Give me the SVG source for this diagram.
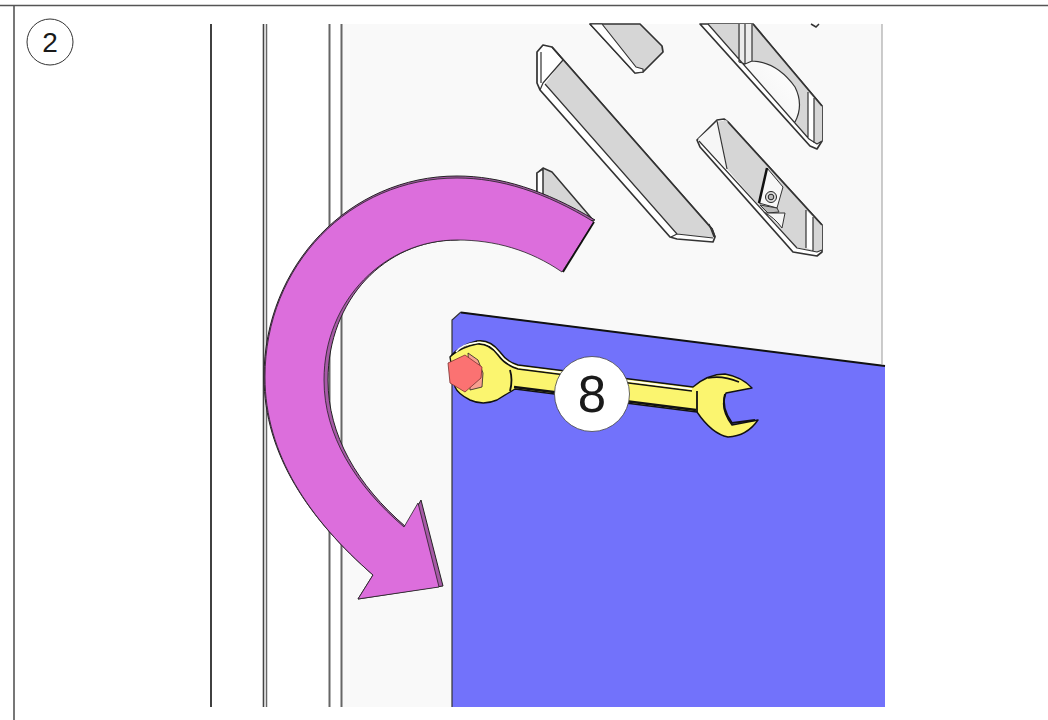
<svg xmlns="http://www.w3.org/2000/svg" width="1048" height="720" viewBox="0 0 1048 720">
<style>
.slot{stroke:#333;stroke-width:1.700;stroke-linejoin:round;fill:#fff}
.face{fill:#d6d6d6;stroke:#333;stroke-width:1.200;stroke-linejoin:round}
.thin{fill:none;stroke:#333;stroke-width:1.200;stroke-linejoin:round}
.wr{fill:#fbf56f;stroke:#111;stroke-width:1.400;stroke-linejoin:round}
.lbl{font-family:"Liberation Sans",Arial,sans-serif;fill:#1a1a1a;text-anchor:middle}
</style>
<defs>
<linearGradient id="dish" x1="0" y1="1" x2="1" y2="0">
<stop offset="0" stop-color="#cfcfcf"/><stop offset=".35" stop-color="#f6f6f6"/><stop offset="1" stop-color="#fff"/>
</linearGradient>
</defs>
<rect width="1048" height="720" fill="#fff"/>
<g id="frame" stroke="#555" stroke-width="1.600" fill="none">
<path d="M0 5.500H1048"/><path d="M14 5V720"/>
</g>
<g id="step-number">
<circle cx="50" cy="42" r="23" fill="#fff" stroke="#333" stroke-width="1"/>
<text class="lbl" x="50" y="52" font-size="28">2</text>
</g>
<g id="plate">
<rect x="342" y="24" width="540" height="683" fill="#f9f9f9"/>
<path d="M882 24V364" stroke="#999" stroke-width="1" fill="none"/>
<g fill="none">
<path d="M211 24V707" stroke="#111" stroke-width="1.600"/>
<path d="M263.500 24V707" stroke="#444" stroke-width="1.600"/>
<path d="M266.500 24V707" stroke="#666" stroke-width="1.500"/>
<path d="M329.500 24V707" stroke="#666" stroke-width="2"/>
<path d="M341.500 24V707" stroke="#666" stroke-width="2"/>
</g>
</g>
<g id="slots">
<g id="slot-top-mid">
<path class="slot" d="M590 24L635 73L643 72L663 52L662 46L640 24Z" style="fill:#d6d6d6"/>
<path d="M590 24L635 73L643 72L643 69L636 67L602 24Z" fill="#fff" stroke="#333" stroke-width="1.200" stroke-linejoin="round"/>
</g>
<g id="slot-long">
<path class="slot" d="M537 52L543 45L552 47L712 229L715 237L713 242L677 239L670 237L540 90L537 83Z"/>
<path d="M563 59.500L712 229L714 238L677 234L545 84Z" fill="#d6d6d6"/>
<path class="thin" d="M541 52V83M563 60L543 83L540 90M545 84L677 234L671 237M677 234L713 238M709 224L714 237"/>
<path d="M552 47L712 229L715 237" fill="none" stroke="#333" stroke-width="1.700"/>
</g>
<g id="slot-top-right">
<path class="slot" d="M700 24L810 146L817 149L822 141V106L753 24Z"/>
<path d="M708 24H753L822 106V141L816 144L809 139Z" fill="#d6d6d6"/>
<path d="M742 63L752 61Q777 62 795 87Q804 105 795 122Z" fill="url(#dish)"/>
<rect x="740" y="24" width="12" height="38" fill="#ececec"/>
<path d="M808 92L814 98V143L808 137Z" fill="#fff"/>
<path class="thin" d="M752 61Q777 62 795 87Q804 105 795 122M708 24L809 139L817 144L822 141M739 24V62M745 24V64M752 24V61M739 62L745 64L752 61M808 92V137M814 98V143"/>
<path d="M753 24L822 106" fill="none" stroke="#333" stroke-width="1.700"/>
<path d="M811 24L816 27L819 24" fill="none" stroke="#333" stroke-width="1.500"/>
</g>
<g id="slot-lower-right">
<path class="slot" d="M697 140L717 120L724 119L728 122L822 225V252L817 256L793 252L700 147Z"/>
<path d="M717 122L726 120L822 225V250L817 252L795 247L727 169Z" fill="#d6d6d6"/>
<path d="M717 122L727 169L701 142L698 139Z" fill="#f6f6f6"/>
<path d="M806 210L813 217V250L806 248Z" fill="#fff"/>
<path class="thin" d="M717 121L727 169M699 141L797 248L817 252L822 250M806 210V248M813 217V251"/>
<path d="M728 122L822 225" fill="none" stroke="#333" stroke-width="1.700"/>
<path d="M767 168L783 187L777 208L759 203Z" fill="#f7f7f7" stroke="#333" stroke-width="1"/>
<path d="M767 168L759 203" stroke="#111" stroke-width="2.500" fill="none"/>
<path d="M760 205L777 208L779 212L768 213Z" fill="#bbb" stroke="#333" stroke-width="1"/>
<path d="M765 213L785 213L782 228Q774 217 765 213Z" fill="#f5f5f5" stroke="#333" stroke-width="1"/>
<circle cx="771" cy="197" r="5.500" fill="#ddd" stroke="#222"/>
<circle cx="771" cy="197" r="2.800" fill="#bbb" stroke="#222"/>
</g>
<g id="slot-lower-left">
<path class="face" d="M537 173L543 168L552 172L593 220L537 200Z" style="stroke-width:1.500"/>
<path d="M537 173L543 169V200H537Z" fill="#fff" stroke="#333" stroke-width="1.500"/>
</g>
</g>
<g id="panel">
<path d="M461 312L452 320V707H885V366Z" fill="#7272fb"/>
<path d="M452 707V320L461 312" fill="none" stroke="#333" stroke-width="1.200"/>
<path d="M461 312.500L885 366" fill="none" stroke="#111" stroke-width="2"/>
</g>
<g id="arrow">
<path d="M595 220C545 190 500 176 457 176C350 176 264 265 264 377C264 455 310 520 373 575L358 599L443 586L421 500L406 527C357 485 328 435 328 380C328 300 385 240 457 240Z" fill="#a65aa6" stroke="#222" stroke-width="1"/>
<path d="M594 222C545 192 500 178 457 178C350 178 265 265 265 377C265 455 310 520 373 575L358 599L439 587L418 503L404 527C355 485 324 435 324 380C324 300 385 240 457 240C495 240 530 250 562 272Z" fill="#dc6edc" stroke="#222" stroke-width="0.800"/>
<path d="M594 222L563 272" stroke="#111" stroke-width="1.800" fill="none"/>
</g>
<g id="wrench">
<path class="wr" d="M450 357Q460 345 477 341Q490 339 500 352Q507 362 518 365L693 387Q708 374 725 374Q742 377 752 388L726 393Q719 408 732 425L758 420Q747 436 728 437Q712 434 697 412L515 389Q510 392 497 400Q483 406 470 400Q458 394 455 387Z"/>
<path d="M452 355Q462 347 477 344Q489 343 498 355Q505 365 518 369L692 391" fill="none" stroke="#111" stroke-width="1.600"/>
<path d="M456 352Q462 344 477 342.500Q489 341 499 353.500Q506 363.500 518 367L692 389" fill="none" stroke="#fff" stroke-width="1.300"/>
<path d="M708 378Q722 375 739 382" fill="none" stroke="#111" stroke-width="1.600"/>
<path d="M514 387L696 410" fill="none" stroke="#111" stroke-width="2.500"/>
<path d="M510 370Q513 380 510 391M697 391V412M725 394Q721 408 732 423L755 420" fill="none" stroke="#111" stroke-width="1.800"/>
<path d="M468 353L478 360L483 373L482 387L470 390Z" fill="#f7a090" stroke="#222" stroke-width="0.800"/>
<path d="M448 363L465 355L482 367L481 378L465 392L450 383Z" fill="#fb7272" stroke="#7a3030" stroke-width="0.800"/>
</g>
<g id="tool-size">
<circle cx="592" cy="394" r="37.500" fill="#fff" stroke="#444" stroke-width="0.800"/>
<text class="lbl" x="592" y="412" font-size="51">8</text>
</g>
</svg>
